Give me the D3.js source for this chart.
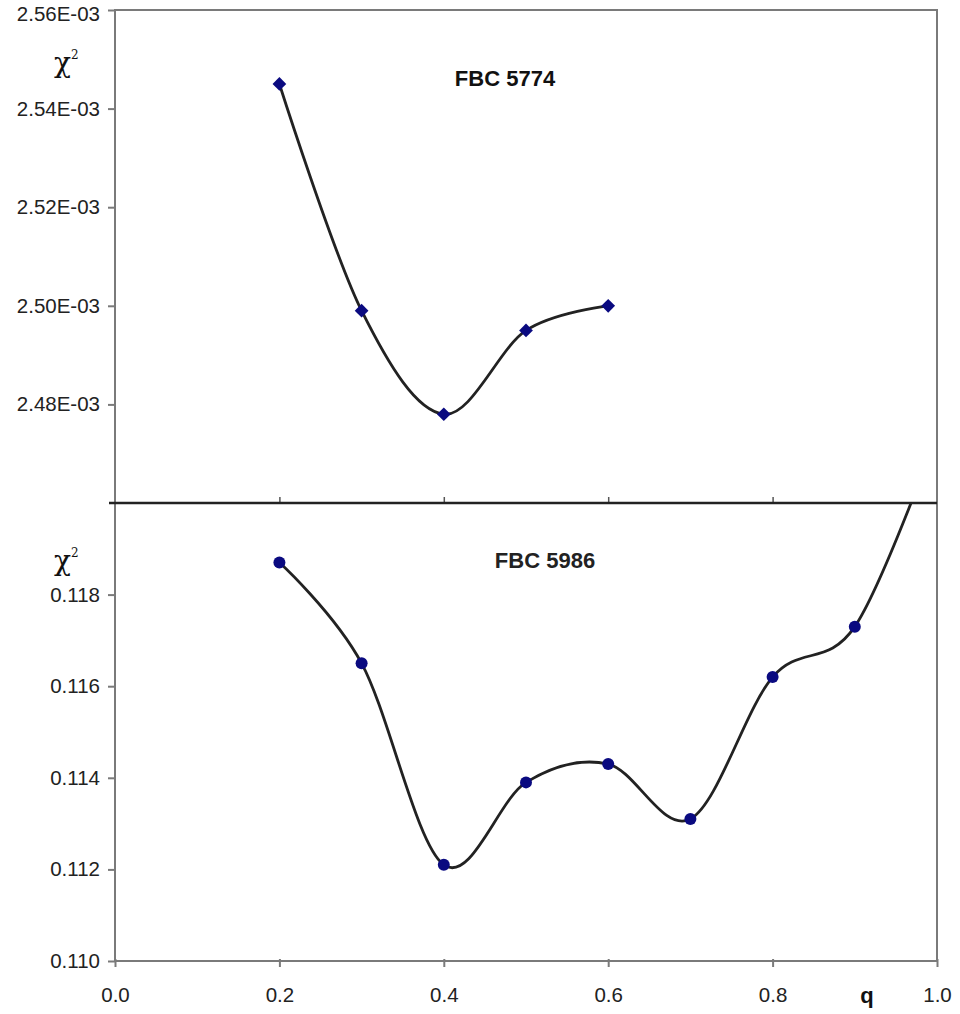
<!DOCTYPE html>
<html>
<head>
<meta charset="utf-8">
<script src="https://cdn.jsdelivr.net/npm/d3@7"></script>
<style>
  body { margin: 0; background: #fff; }
  text { font-family: "Liberation Sans", Arial, sans-serif; }
</style>
</head>
<body>
<svg id="canvas"></svg>
<script>
// upper panel: FBC 5774
let qTop = [0.2, 0.3, 0.4, 0.5, 0.6];
let chiTop = [2.545e-3, 2.499e-3, 2.478e-3, 2.495e-3, 2.500e-3];
let topTicks = [2.48e-3, 2.50e-3, 2.52e-3, 2.54e-3, 2.56e-3];

// lower panel: FBC 5986 (last point runs off the top of the panel)
let qBottom = [0.2, 0.3, 0.4, 0.5, 0.6, 0.7, 0.8, 0.9, 1.0];
let chiBottom = [0.1187, 0.1165, 0.1121, 0.1139, 0.1143, 0.1131, 0.1162, 0.1173, 0.1215];
let bottomTicks = [0.110, 0.112, 0.114, 0.116, 0.118];

let qTicks = [0.0, 0.2, 0.4, 0.6, 0.8, 1.0];

let width = 960;
let height = 1014;
let plotLeft = 115;
let plotRight = 937;
let plotTop = 10;
let plotMid = 503;
let plotBottom = 961;

let canvas = d3.select("#canvas").attr("width", width).attr("height", height);

let xScale = d3.scaleLinear().domain([0, 1]).range([plotLeft, plotRight]);
let yTop = d3.scaleLinear().domain([2.46e-3, 2.56e-3]).range([plotMid, plotTop]);
let yBottom = d3.scaleLinear().domain([0.110, 0.120]).range([plotBottom, plotMid]);

let axisGrey = "#7a7a7a";

let styleAxis = (g) => {
  g.select(".domain").remove();
  g.selectAll(".tick line").attr("stroke", axisGrey).attr("stroke-width", 2);
  g.selectAll(".tick text")
    .attr("fill", "#222")
    .style("font-size", "20.5px");
};

// clip areas
let defs = canvas.append("defs");
defs.append("clipPath").attr("id", "clipTop")
  .append("rect").attr("x", plotLeft).attr("y", plotTop)
  .attr("width", plotRight - plotLeft).attr("height", plotMid - plotTop);
defs.append("clipPath").attr("id", "clipBottom")
  .append("rect").attr("x", plotLeft).attr("y", plotMid)
  .attr("width", plotRight - plotLeft).attr("height", plotBottom - plotMid);

// frame
canvas.append("path")
  .attr("d", `M${plotLeft},${plotBottom} V${plotTop} H${plotRight} V${plotBottom} H${plotLeft}`)
  .attr("fill", "none")
  .attr("stroke", axisGrey)
  .attr("stroke-width", 2);

// left axes
let fmtSci = (d) => (d * 1000).toFixed(2) + "E-03";
canvas.append("g")
  .attr("transform", `translate(${plotLeft},0)`)
  .call(d3.axisLeft(yTop).tickValues(topTicks).tickFormat(fmtSci).tickSize(7).tickPadding(8))
  .call(styleAxis)
  .call((g) => g.selectAll(".tick text").filter((d) => d > 2.555e-3).attr("dy", "0.5em"));

canvas.append("g")
  .attr("transform", `translate(${plotLeft},0)`)
  .call(d3.axisLeft(yBottom).tickValues(bottomTicks).tickFormat(d3.format(".3f")).tickSize(7).tickPadding(8))
  .call(styleAxis);

// bottom x axis
canvas.append("g")
  .attr("transform", `translate(0,${plotBottom})`)
  .call(d3.axisBottom(xScale).tickValues(qTicks).tickFormat(d3.format(".1f")).tickSize(6).tickPadding(20))
  .call(styleAxis)
  .call((g) => g.selectAll(".tick line").attr("y1", -2));

// divider line (x axis of the upper panel)
canvas.append("g")
  .attr("transform", `translate(0,${plotMid})`)
  .call(d3.axisTop(xScale).tickValues(qTicks.slice(1, 5)).tickFormat("").tickSize(6))
  .call((g) => {
    g.select(".domain").remove();
    g.selectAll(".tick line").attr("stroke", "#555").attr("stroke-width", 1.5);
  });
canvas.append("line")
  .attr("x1", plotLeft - 6).attr("x2", plotRight)
  .attr("y1", plotMid).attr("y2", plotMid)
  .attr("stroke", "#222")
  .attr("stroke-width", 2.5);

// smoothed lines
let lineTop = d3.line()
  .x((d, i) => xScale(qTop[i]))
  .y((d) => yTop(d))
  .curve(d3.curveCardinal.tension(0));

let lineBottom = d3.line()
  .x((d, i) => xScale(qBottom[i]))
  .y((d) => yBottom(d))
  .curve(d3.curveCardinal.tension(0));

canvas.append("path")
  .datum(chiTop)
  .attr("clip-path", "url(#clipTop)")
  .attr("d", lineTop)
  .attr("fill", "none")
  .attr("stroke", "#222")
  .attr("stroke-width", 2.8);

canvas.append("path")
  .datum(chiBottom)
  .attr("clip-path", "url(#clipBottom)")
  .attr("d", lineBottom)
  .attr("fill", "none")
  .attr("stroke", "#222")
  .attr("stroke-width", 2.8);

// markers
canvas.append("g")
  .attr("clip-path", "url(#clipTop)")
  .selectAll("path")
  .data(chiTop)
  .enter()
  .append("path")
  .attr("d", d3.symbol().type(d3.symbolDiamond2).size(120))
  .attr("transform", (d, i) => `translate(${xScale(qTop[i])},${yTop(d)})`)
  .attr("fill", "#0a0a80");

canvas.append("g")
  .attr("clip-path", "url(#clipBottom)")
  .selectAll("circle")
  .data(chiBottom)
  .enter()
  .append("circle")
  .attr("cx", (d, i) => xScale(qBottom[i]))
  .attr("cy", (d) => yBottom(d))
  .attr("r", 6)
  .attr("fill", "#0a0a80");

// titles and axis labels
canvas.append("text")
  .attr("x", 505).attr("y", 86)
  .attr("text-anchor", "middle")
  .style("font-size", "22px")
  .style("font-weight", "bold")
  .attr("fill", "#111")
  .text("FBC 5774");

canvas.append("text")
  .attr("x", 545).attr("y", 568)
  .attr("text-anchor", "middle")
  .style("font-size", "22px")
  .style("font-weight", "bold")
  .attr("fill", "#222")
  .text("FBC 5986");

let chiLabel = (y) => {
  let t = canvas.append("text")
    .attr("x", 54).attr("y", y)
    .style("font-family", "'DejaVu Serif', serif")
    .style("font-size", "28px")
    .attr("fill", "#111");
  t.append("tspan").text("χ");
  t.append("tspan").attr("dy", -13).style("font-size", "12px").text("2");
};
chiLabel(72);
chiLabel(570);

canvas.append("text")
  .attr("x", 867).attr("y", 1003)
  .attr("text-anchor", "middle")
  .style("font-size", "22px")
  .style("font-weight", "bold")
  .attr("fill", "#111")
  .text("q");
</script>
</body>
</html>
